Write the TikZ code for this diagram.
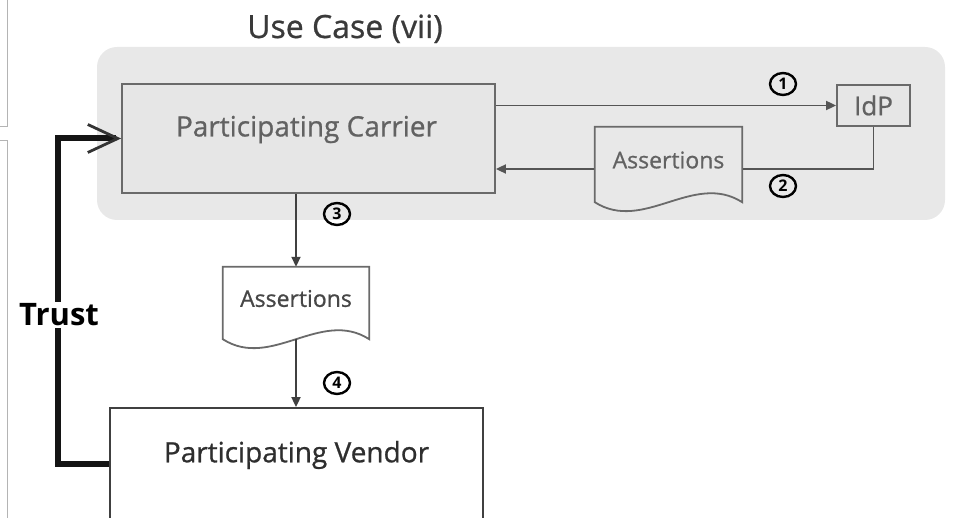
\documentclass[tikz,border=0pt]{standalone}
\usepackage{fontspec}
\setmainfont{Open Sans}
\newfontfamily\semifont{Open Sans}[FakeBold=0.8]
\usetikzlibrary{arrows.meta,calc,shapes.geometric}
\definecolor{bggray}{HTML}{E8E8E8}
\definecolor{boxfill}{HTML}{E6E6E6}
\definecolor{boxline}{HTML}{6A6A6A}
\definecolor{arrgray}{HTML}{555555}
\definecolor{txtgray}{HTML}{626262}
\definecolor{titlegray}{HTML}{3A3A3A}
\definecolor{artgray}{HTML}{B4B4B4}
\newcommand\docoutline[2]{%
  \filldraw[docline, fill=#2] ($(#1.south west)+(0,-9)$) -- (#1.north west) -- (#1.north east)
    -- ($(#1.south east)+(0,-9)$)
    .. controls ($(#1.south west)!0.67!(#1.south east)+(0,-40)$) and ($(#1.south west)!0.33!(#1.south east)+(0,22)$)
    .. ($(#1.south west)+(0,-9)$) -- cycle;}
\begin{document}
\begin{tikzpicture}[x=1pt,y=-1pt,
  bgbox/.style={rectangle, rounded corners=20pt, fill=bggray, draw=none, inner sep=0pt},
  boxc/.style={rectangle, draw=boxline, line width=1.8pt, inner sep=0pt},
  docbox/.style={rectangle, draw=none, inner sep=0pt},
  docline/.style={draw=boxline, line width=1.8pt, line join=miter},
  flow/.style={draw=arrgray, line width=1.8pt},
  flowarr/.style={flow, -{Triangle[length=10pt,width=9pt]}},
  num/.style={ellipse, draw=black, line width=2.4pt, minimum width=26pt, minimum height=22pt, inner sep=0pt,
    font=\bfseries\fontsize{16}{16}\selectfont},
  boxtext/.style={font=\semifont\fontsize{28}{32}\selectfont, text=txtgray, inner sep=0pt},
  doctext/.style={font=\semifont\fontsize{23}{26}\selectfont, text=txtgray, inner sep=0pt},
  trustline/.style={draw=black!92, line width=6pt,
    -{Straight Barb[length=30pt,width=28pt,line width=2.8pt,color=black!80]}},
  artline/.style={draw=artgray, line width=0.8pt}
]
\useasboundingbox (0,0) rectangle (955,518);
% scan artefacts at left border
\draw[artline] (7,0) -- (7,126) -- (0,126);
\draw[artline] (0,140) -- (7,140) -- (7,518);
% title
\node[font=\semifont\fontsize{32}{36}\selectfont, text=titlegray, inner sep=0pt, anchor=base] (title) at (345,38) {Use Case (vii)};
% grey region
\node[bgbox, minimum width=848pt, minimum height=173pt] (bg) at (521,133.5) {};
% boxes
\node[boxc, fill=boxfill, minimum width=373pt, minimum height=109pt] (carrier) at (308.5,138.5) {};
\node[boxtext] (carriertxt) at ($(carrier.center)+(-2,-9)$) {Participating Carrier};
\node[boxc, fill=boxfill, minimum width=73pt, minimum height=41pt, font=\semifont\fontsize{26}{28}\selectfont, text=txtgray] (idp) at (873.5,105.5) {IdP};
\node[boxc, fill=white, draw=black!75, minimum width=373pt, minimum height=112pt] (vendor) at (296.5,464) {};
\node[boxtext, text=black!82] (vendortxt) at ($(vendor.center)+(0,-9)$) {Participating Vendor};
% documents
\node[docbox, minimum width=147pt, minimum height=84pt] (doc1) at (668.5,169) {};
\node[docbox, minimum width=146pt, minimum height=81pt] (doc2) at (296,307.5) {};
% connectors
\draw[flowarr] (carrier.east |- idp.west) -- (idp.west);
\draw[flow] (idp.south) |- (doc1.east);
\draw[flowarr] (doc1.west) -- (carrier.east |- doc1.west);
\docoutline{doc1}{bggray}
\node[doctext] (doc1txt) at ($(doc1.center)+(0,-9)$) {Assertions};
\draw[flowarr, draw=black!75] (doc2.north |- carrier.south) -- (doc2.north);
\docoutline{doc2}{white}
\node[doctext, text=black!72] (doc2txt) at ($(doc2.center)+(0,-9)$) {Assertions};
\draw[flowarr, draw=black!75] ($(doc2.south)+(0,-9)$) -- (doc2.south |- vendor.north);
% step numbers
\node[num] (n1) at (783,84) {1};
\node[num] (n2) at (783,186) {2};
\node[num] (n3) at (337,214) {3};
\node[num] (n4) at (337,383) {4};
% trust
\coordinate (tc) at (57.5,300);
\draw[trustline] (vendor.west) -| (tc) |- (carrier.west);
\node[fill=white, inner sep=2pt, font=\bfseries\fontsize{31}{34}\selectfont, text=black] (trust) at (59,315) {Trust};
\end{tikzpicture}
\end{document}
